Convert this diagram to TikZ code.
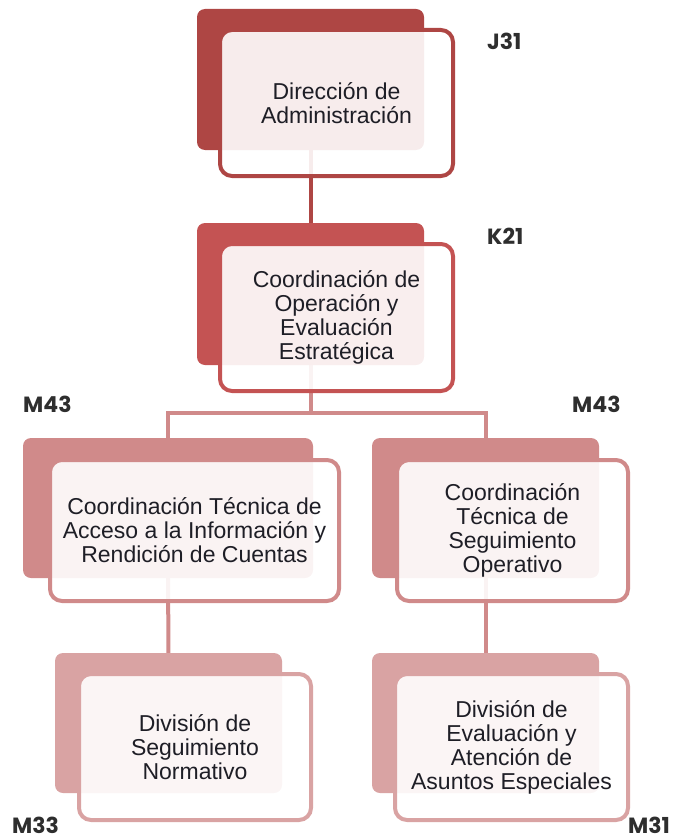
\documentclass[tikz,border=0pt]{standalone}
\usepackage{fontspec}
\setmainfont{Liberation Sans}
\newfontfamily\labfont{Poppins}
\usetikzlibrary{backgrounds}
\definecolor{cA}{HTML}{AE4644}
\definecolor{cB}{HTML}{C45353}
\definecolor{cC}{HTML}{D08A8A}
\definecolor{cD}{HTML}{D9A3A3}
\definecolor{txt}{HTML}{1E1E26}
\definecolor{labc}{HTML}{2E2E2E}
\begin{document}
\begin{tikzpicture}[x=1pt,y=-1pt,
  backbox/.style={rectangle, rounded corners=8pt, fill=#1, inner sep=0pt},
  frontbox/.style={rectangle, rounded corners=12pt, draw=#1, line width=4pt,
    fill=white, fill opacity=0.9, text opacity=1, align=center,
    font=\fontsize{23}{24}\selectfont, text=txt, inner sep=0pt},
  conn/.style={line width=4pt, draw=#1},
  lab/.style={font=\labfont\bfseries\fontsize{22}{22}\selectfont, text=labc, inner sep=0pt, anchor=west}]
\useasboundingbox (0,0) rectangle (678,840);

% level 1
\node[backbox=cA, minimum width=227pt, minimum height=141pt] (b1) at (310.5,79.5) {};
\node[frontbox=cA, minimum width=233pt, minimum height=146pt] (f1) at (336.5,103) {Dirección de\\Administración};
% level 2
\node[backbox=cB, minimum width=227pt, minimum height=142pt] (b2) at (310.5,294) {};
\node[frontbox=cB, minimum width=233pt, minimum height=147pt] (f2) at (336.5,317.5) {Coordinación de\\Operación y\\Evaluación\\Estratégica};
% level 3
\node[backbox=cC, minimum width=290pt, minimum height=140pt] (b3l) at (168,508) {};
\node[frontbox=cC, minimum width=289pt, minimum height=141pt] (f3l) at (194.5,530.5) {Coordinación Técnica de\\Acceso a la Información y\\Rendición de Cuentas};
\node[backbox=cC, minimum width=227pt, minimum height=140pt] (b3r) at (485.5,508) {};
\node[frontbox=cC, minimum width=231pt, minimum height=141pt] (f3r) at (512.5,530.5) {Coordinación\\Técnica de\\Seguimiento\\Operativo};
% level 4
\node[backbox=cD, minimum width=227pt, minimum height=140pt] (b4l) at (168.5,723) {};
\node[frontbox=cD, minimum width=232pt, minimum height=146pt] (f4l) at (195,747) {División de\\Seguimiento\\Normativo};
\node[backbox=cD, minimum width=227pt, minimum height=140pt] (b4r) at (485.5,723) {};
\node[frontbox=cD, minimum width=233pt, minimum height=146pt] (f4r) at (511.5,747) {División de\\Evaluación y\\Atención de\\Asuntos Especiales};

\coordinate (bus) at (0,413);

\begin{pgfonlayer}{background}
\draw[conn=cA] (b1.center) -- (b2.center);
\draw[conn=cC] (b2.center) -- (b2.center |- bus);
\draw[conn=cC] (b3l.center) |- (b2.center |- bus) -| (b3r.center);
\draw[conn=cC] (b3l.center) -- (b4l.center);
\draw[conn=cC] (b3r.center) -- (b4r.center);
\end{pgfonlayer}

% codes
\node[lab] (l1) at (487,41) {J31};
\node[lab] (l2) at (487,236) {K21};
\node[lab] (l3) at (23,404) {M43};
\node[lab] (l4) at (572,404) {M43};
\node[lab] (l5) at (12,825) {M33};
\node[lab] (l6) at (628,825) {M31};
\end{tikzpicture}
\end{document}
